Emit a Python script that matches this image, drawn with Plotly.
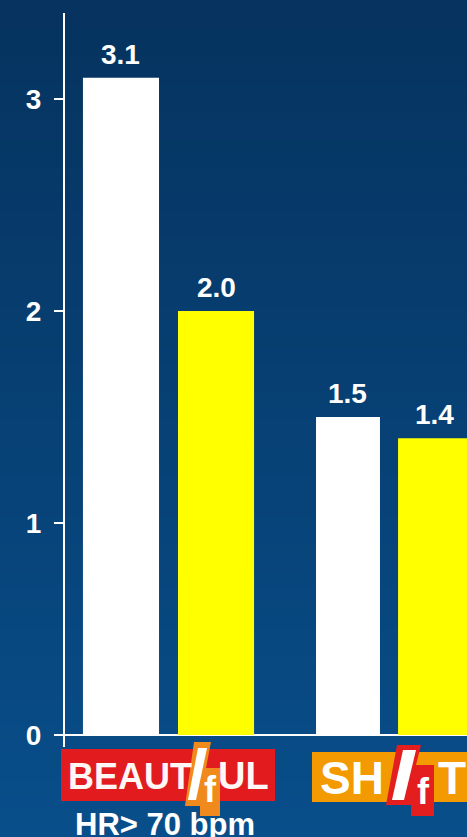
import plotly.graph_objects as go

# ---- data -------------------------------------------------------------
studies = ["BEAUTIfUL", "SHIfT"]
white_series = [3.1, 1.5]
yellow_series = [2.0, 1.4]
y_ticks = [0, 1, 2, 3]
subtitle = "HR> 70 bpm"

# ---- canvas geometry (pixels) ----------------------------------------
W, H = 467, 837
L, R, T, B = 65, 0, 13, 90          # margins
PW, PH = W - L - R, H - T - B        # plot area size
BOTTOM_PX = H - B                    # y pixel of plot bottom


def px(x):
    """pixel x -> paper x"""
    return (x - L) / PW


def py(y):
    """pixel y -> paper y"""
    return (BOTTOM_PX - y) / PH


def path(points):
    return "M " + " L ".join(f"{px(x):.5f},{py(y):.5f}" for x, y in points) + " Z"


FONT = "Liberation Sans, Arial, Helvetica, sans-serif"

# bar layout in data units (group centres at 0 and 1)
x_idx = list(range(len(studies)))
white_offset, white_width = [-0.388, -0.331], [0.345, 0.29]
yellow_offset, yellow_width = [0.043, 0.041], [0.345, 0.33]

fig = go.Figure()
fig.add_trace(go.Bar(x=x_idx, y=white_series, offset=white_offset, width=white_width,
                     marker=dict(color="#ffffff", line=dict(width=0)),
                     hoverinfo="skip", name="white"))
fig.add_trace(go.Bar(x=x_idx, y=yellow_series, offset=yellow_offset, width=yellow_width,
                     marker=dict(color="#ffff00", line=dict(width=0)),
                     hoverinfo="skip", name="yellow"))

annotations = []
# value labels above the bars
for vals, offs, wids in ((white_series, white_offset, white_width),
                         (yellow_series, yellow_offset, yellow_width)):
    for i, v in enumerate(vals):
        annotations.append(dict(x=x_idx[i] + offs[i] + wids[i] / 2, y=v, xref="x", yref="y",
                                text=f"{v:.1f}", showarrow=False, yanchor="bottom", yshift=6,
                                font=dict(family=FONT, size=28, color="white", weight="bold")))

shapes = []
# vertical background gradient
top_rgb, bot_rgb = (6, 51, 95), (8, 78, 138)
n = 60
for k in range(n):
    t = k / (n - 1)
    c = tuple(round(a + (b - a) * t) for a, b in zip(top_rgb, bot_rgb))
    y0 = k * H / n
    y1 = (k + 1) * H / n + 1
    shapes.append(dict(type="rect", xref="paper", yref="paper", layer="below",
                       x0=px(0), x1=px(W), y0=py(y1), y1=py(y0),
                       fillcolor=f"rgb{c}", line=dict(width=0)))

# ---- BEAUTIfUL logo ----
shapes.append(dict(type="rect", xref="paper", yref="paper", x0=px(61), x1=px(275),
                   y0=py(801), y1=py(749), fillcolor="#e11b1e", line=dict(width=0)))
shapes.append(dict(type="path", xref="paper", yref="paper",
                   path=path([(194, 742), (211, 742), (206, 768), (220, 768), (220, 816),
                              (200, 816), (200, 806), (185, 806)]),
                   fillcolor="#f08a1c", line=dict(width=0)))
shapes.append(dict(type="path", xref="paper", yref="paper",
                   path=path([(198, 748), (207, 748), (196, 800), (188, 800)]),
                   fillcolor="#ffffff", line=dict(width=0)))
annotations += [
    dict(x=px(66), y=py(776), xref="paper", yref="paper", text="BEAUT", showarrow=False,
         xanchor="left", yanchor="middle",
         font=dict(family=FONT, size=36, color="#fff6f6", weight="bold")),
    dict(x=px(216), y=py(776), xref="paper", yref="paper", text="UL", showarrow=False,
         xanchor="left", yanchor="middle",
         font=dict(family=FONT, size=38, color="#fff6f6", weight="bold")),
    dict(x=px(210), y=py(790), xref="paper", yref="paper", text="f", showarrow=False,
         xanchor="center", yanchor="middle",
         font=dict(family=FONT, size=36, color="#ffffff", weight="bold")),
]

# ---- SHIfT logo ----
shapes.append(dict(type="rect", xref="paper", yref="paper", x0=px(312), x1=px(W + 5),
                   y0=py(802), y1=py(752), fillcolor="#f39a00", line=dict(width=0)))
shapes.append(dict(type="path", xref="paper", yref="paper",
                   path=path([(397, 745), (421, 745), (416, 765), (434, 765), (434, 816),
                              (411, 816), (411, 805), (386, 805)]),
                   fillcolor="#e41e1e", line=dict(width=0)))
shapes.append(dict(type="path", xref="paper", yref="paper",
                   path=path([(403, 750), (416, 750), (404, 800), (392, 800)]),
                   fillcolor="#ffffff", line=dict(width=0)))
annotations += [
    dict(x=px(318), y=py(778), xref="paper", yref="paper", text="SH", showarrow=False,
         xanchor="left", yanchor="middle",
         font=dict(family=FONT, size=46, color="#ffffff", weight="bold")),
    dict(x=px(436), y=py(778), xref="paper", yref="paper", text="T", showarrow=False,
         xanchor="left", yanchor="middle",
         font=dict(family=FONT, size=46, color="#ffffff", weight="bold")),
    dict(x=px(423), y=py(791), xref="paper", yref="paper", text="f", showarrow=False,
         xanchor="center", yanchor="middle",
         font=dict(family=FONT, size=36, color="#ffffff", weight="bold")),
]

# subtitle under the first group
annotations.append(dict(x=px(165), y=py(805), xref="paper", yref="paper", text=subtitle,
                        showarrow=False, xanchor="center", yanchor="top",
                        font=dict(family=FONT, size=31, color="white", weight="bold")))

# y range so that 0 sits 12 px above the plot bottom at 212 px per unit
SCALE = 212
y_lo = -(12) / SCALE
y_hi = y_lo + PH / SCALE

fig.update_layout(
    width=W, height=H,
    margin=dict(l=L, r=R, t=T, b=B, pad=0),
    paper_bgcolor="#073460", plot_bgcolor="rgba(0,0,0,0)",
    showlegend=False, barmode="overlay",
    xaxis=dict(range=[-0.4694, 1.3537], visible=False, fixedrange=True),
    yaxis=dict(range=[y_lo, y_hi], tickvals=y_ticks, ticktext=[str(v) for v in y_ticks],
               showgrid=False, showline=True, linecolor="white", linewidth=2,
               zeroline=True, zerolinecolor="white", zerolinewidth=1.5,
               ticks="outside", ticklen=9, tickwidth=2, tickcolor="white",
               ticklabelstandoff=7,
               tickfont=dict(family=FONT, size=28, color="white", weight="bold"),
               fixedrange=True),
    shapes=shapes, annotations=annotations,
)

fig.write_html("out.html", config={"displayModeBar": False})
